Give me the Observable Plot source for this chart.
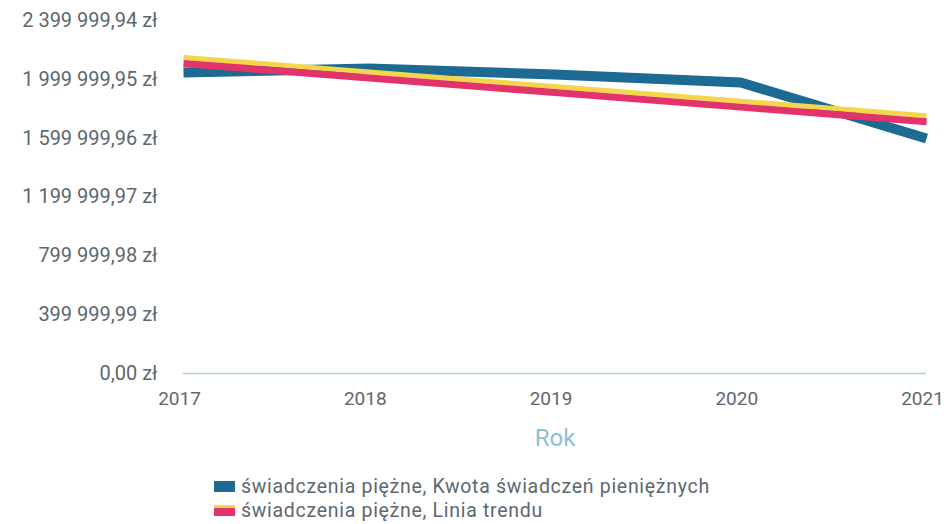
<!DOCTYPE html>
<html>
<head>
<meta charset="utf-8">
<script src="https://cdn.jsdelivr.net/npm/d3@7"></script>
<script src="https://cdn.jsdelivr.net/npm/@observablehq/plot@0.6"></script>
<style>
  body { margin: 0; background: #fff; font-family: Roboto, "Open Sans", sans-serif; }
  #chart svg { display: block; }
  #legend { margin-left: 214px; margin-top: 12px; color: #5c6870; font-size: 19.5px; letter-spacing: 0.7px; }
  .row { display: flex; align-items: center; height: 24px; }
  .sw { width: 21px; height: 11px; margin-right: 6px; }
</style>
</head>
<body>
<div id="chart"></div>
<div id="legend"></div>
<script>
const years = [2017, 2018, 2019, 2020, 2021];
const kwota = [2046500, 2073700, 2032900, 1978500, 1597800];
const trend = [2125000, 2026000, 1927000, 1828000, 1729000];
const yTicks = [0, 399999.99, 799999.98, 1199999.97, 1599999.96, 1999999.95, 2399999.94];
const seriesNames = ["świadczenia piężne, Kwota świadczeń pieniężnych", "świadczenia piężne, Linia trendu"];

const kwotaData = years.map((y, i) => ({year: y, value: kwota[i]}));
const trendData = years.map((y, i) => ({year: y, value: trend[i]}));

const locale = d3.formatLocale({decimal: ",", thousands: " ", grouping: [3], currency: ["", " zł"]});
const fmt = locale.format(",.2f");

const blue = "#1d6a92", red = "#e2336a", yellow = "#f3d64a";

const chart = Plot.plot({
  width: 949,
  height: 462,
  marginLeft: 183,
  marginRight: 23,
  marginTop: 20,
  marginBottom: 89,
  style: {fontFamily: "Roboto, sans-serif", background: "#fff"},
  x: {domain: [2017, 2021], ticks: years, tickFormat: "d", label: null},
  y: {domain: [0, 2399999.94], ticks: yTicks, label: null},
  marks: [
    Plot.ruleY([0], {stroke: "#a9d3e6", strokeWidth: 1.5}),
    Plot.axisY({ticks: yTicks, tickSize: 0, tickPadding: 26, tickFormat: d => fmt(d) + " zł", fontSize: 20, fill: "#5c6870", label: null, style: {letterSpacing: "1.9px"}}),
    Plot.axisX({ticks: years, tickSize: 0, tickPadding: 18, tickFormat: "d", fontSize: 19, fill: "#5c6870", label: null, dx: -4, style: {letterSpacing: "0.8px"}}),
    Plot.text(["Rok"], {frameAnchor: "bottom", dy: 65, lineAnchor: "middle", fontSize: 24, fill: "#8dbfd8"}),
    Plot.line(kwotaData, {x: "year", y: "value", stroke: blue, strokeWidth: 10, strokeLinecap: "butt", strokeLinejoin: "round"}),
    Plot.line(trendData, {x: "year", y: "value", stroke: yellow, strokeWidth: 5, dy: -3.5, strokeLinecap: "butt"}),
    Plot.line(trendData, {x: "year", y: "value", stroke: red, strokeWidth: 7, dy: 2.5, strokeLinecap: "butt"})
  ]
});
document.getElementById("chart").appendChild(chart);

const legend = document.getElementById("legend");
const swatches = [
  `background:${blue}`,
  `background:linear-gradient(${yellow} 0 30%, ${red} 30% 100%)`
];
seriesNames.forEach((name, i) => {
  const row = document.createElement("div");
  row.className = "row";
  row.innerHTML = `<span class="sw" style="${swatches[i]}"></span><span>${name}</span>`;
  legend.appendChild(row);
});
</script>
</body>
</html>
